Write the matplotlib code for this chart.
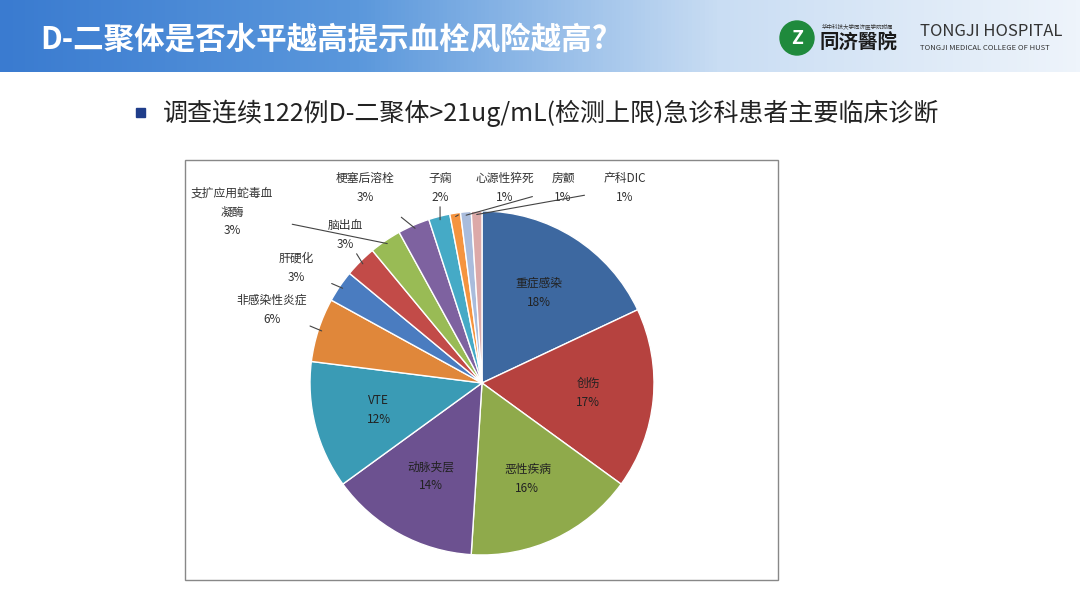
import numpy as np
import matplotlib.pyplot as plt
from matplotlib.patches import Rectangle, Circle
from matplotlib.colors import LinearSegmentedColormap

plt.rcParams['font.family'] = ['Noto Sans CJK SC', 'DejaVu Sans']

# data (percent, clockwise from 12 o'clock)
labels = ['重症感染', '创伤', '恶性疾病', '动脉夹层', 'VTE', '非感染性炎症', '肝硬化',
          '脑出血', '支扩应用蛇毒血\n凝酶', '梗塞后溶栓', '子痫', '心源性猝死', '房颤', '产科DIC']
values = [18, 17, 16, 14, 12, 6, 3, 3, 3, 3, 2, 1, 1, 1]
colors = ['#3d68a0', '#b6423f', '#8faa4b', '#6c5190', '#3a9bb5', '#e0873a', '#4a7cc0',
          '#c24b48', '#99bb55', '#7e62a0', '#45aac6', '#f5943f', '#a9bcdc', '#dca9a8']
# outside label positions (pixel coords of the slide, layout only)
outside_pos = {5: (272, 310), 6: (296, 268), 7: (345, 235), 8: (232, 212), 9: (365, 188),
               10: (440, 188), 11: (505, 188), 12: (563, 188), 13: (625, 188)}

W, H = 1080, 608
fig = plt.figure(figsize=(10.8, 6.08), dpi=100)
bg = fig.add_axes([0, 0, 1, 1])
bg.axis('off')

# header gradient
grad = np.linspace(0, 1, 256)[None, :]
cm = LinearSegmentedColormap.from_list('h', ['#3a7bd0', '#5b98dc', '#c9ddf3', '#eef4fb'])
bg.imshow(grad, cmap=cm, extent=[0, W, 72, 0], aspect='auto')
bg.set_xlim(0, W)
bg.set_ylim(H, 0)
bg.text(40, 40, 'D-二聚体是否水平越高提示血栓风险越高?', color='white', fontsize=22,
        fontweight='bold', va='center')
bg.add_patch(Circle((797, 38), 17, color='#1f8a3c'))
bg.text(797, 38, 'Z', color='white', fontsize=14, fontweight='bold', ha='center', va='center')
bg.text(822, 26, '华中科技大学同济医学院附属', fontsize=4, color='#333', va='center')
bg.text(820, 43, '同济醫院', fontsize=14, color='#1a1a1a', va='center', fontweight='bold')
bg.text(920, 32, 'TONGJI HOSPITAL', fontsize=12, color='#333', va='center')
bg.text(920, 48, 'TONGJI MEDICAL COLLEGE OF HUST', fontsize=5.5, color='#333', va='center')

# bullet
bg.add_patch(Rectangle((136, 108), 9, 9, color='#1f3d8a'))
bg.text(163, 113, '调查连续122例D-二聚体>21ug/mL(检测上限)急诊科患者主要临床诊断',
        fontsize=18, color='#222', va='center')

# chart box
bg.add_patch(Rectangle((185, 160), 593, 420, fill=False, ec='#888', lw=1))

# pie axes in pixel units
x0, x1, y0, y1 = 185, 778, 160, 580
ax = fig.add_axes([x0 / W, 1 - y1 / H, (x1 - x0) / W, (y1 - y0) / H])
ax.axis('off')
cx, cy, r = 482, H - 383, 172
wedges, _ = ax.pie(values, colors=colors, startangle=90, counterclock=False,
                   center=(cx, cy), radius=r, wedgeprops=dict(ec='white', lw=1))
ax.set_xlim(x0, x1)
ax.set_ylim(H - y1, H - y0)

for i, w in enumerate(wedges):
    ang = np.deg2rad((w.theta1 + w.theta2) / 2)
    txt = f'{labels[i]}\n{values[i]}%'
    if i in outside_pos:
        px, py = outside_pos[i]
        ex, ey = cx + r * 0.98 * np.cos(ang), cy + r * 0.98 * np.sin(ang)
        ax.annotate(txt, xy=(ex, ey), xytext=(px, H - py), ha='center', va='center',
                    fontsize=8.5, color='#333', linespacing=1.6,
                    arrowprops=dict(arrowstyle='-', color='#444', lw=0.8,
                                    shrinkA=12, shrinkB=0))
    else:
        tx, ty = cx + r * 0.62 * np.cos(ang), cy + r * 0.62 * np.sin(ang)
        ax.text(tx, ty, txt, ha='center', va='center', fontsize=8.5, color='#222',
                linespacing=1.6)

fig.savefig('out.png', dpi=100)
